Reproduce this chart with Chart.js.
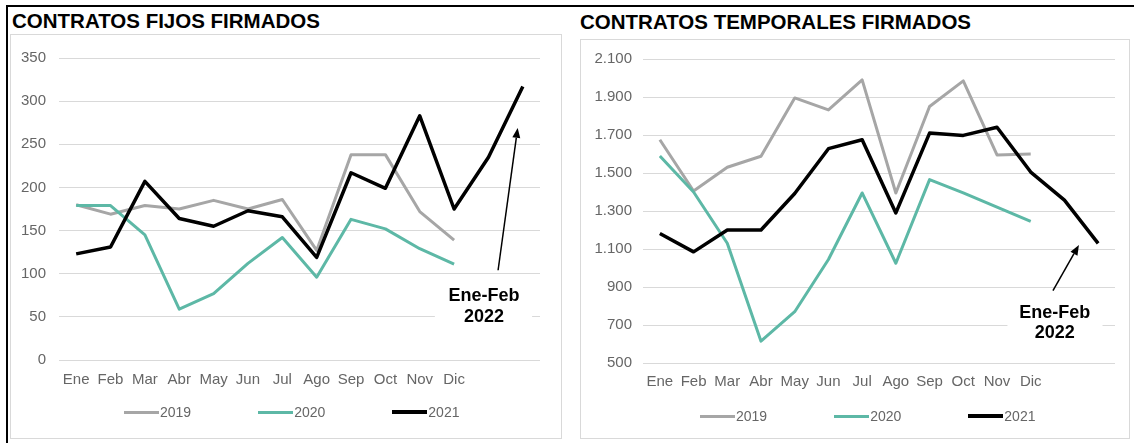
<!DOCTYPE html>
<html>
<head>
<meta charset="utf-8">
<script src="https://cdn.jsdelivr.net/npm/chart.js@4.4.1/dist/chart.umd.min.js"></script>
<style>
  html, body { margin: 0; padding: 0; background: #fff; }
  body { width: 1134px; height: 443px; position: relative; overflow: hidden; font-family: "Liberation Sans", Arial, sans-serif; }
  .abs { position: absolute; }
  .title { font-weight: bold; font-size: 20.5px; color: #000; white-space: nowrap; line-height: 24px; }
  .box { border: 1px solid #d9d9d9; box-sizing: border-box; }
  .legend { display: flex; align-items: center; font-size: 14px; color: #666; white-space: nowrap; }
  .legend .item { display: flex; align-items: center; margin-right: 67px; }
  .legend .swatch { width: 35px; margin-right: 1px; }
</style>
</head>
<body>
<div class="abs" style="left:6px;top:5px;width:1128px;height:2px;background:#000"></div>
<div class="abs" style="left:6px;top:5px;width:2px;height:438px;background:#000"></div>

<div class="abs box" style="left:10px;top:34px;width:552px;height:405px"></div>
<div class="abs box" style="left:580px;top:39px;width:550px;height:400px"></div>

<div class="abs title" id="t1" style="left:12px;top:9px"></div>
<div class="abs title" id="t2" style="left:580px;top:10px"></div>

<canvas id="c1" class="abs" width="546" height="400" style="left:14px;top:36px"></canvas>
<canvas id="c2" class="abs" width="549" height="399" style="left:580px;top:39px"></canvas>

<div class="abs legend" id="lg1" style="left:124px;top:402px;height:20px"></div>
<div class="abs legend" id="lg2" style="left:700px;top:406px;height:20px"></div>

<script>
// ---------- DATA ----------
const titleFijos = 'CONTRATOS FIJOS FIRMADOS';
const titleTemporales = 'CONTRATOS TEMPORALES FIRMADOS';
const months = ['Ene','Feb','Mar','Abr','May','Jun','Jul','Ago','Sep','Oct','Nov','Dic','',''];
const seriesNames = ['2019','2020','2021'];
const annotationText = ['Ene-Feb','2022'];

const fijos2019 = [180,169,179,175,185,175,186,127,238,238,172,139,null,null];
const fijos2020 = [179,179,145,59,77,112,142,96,163,152,129,111,null,null];
const fijos2021 = [123,131,207,164,155,173,166,119,217,199,283,175,235,317];

const temporales2019 = [1675,1405,1530,1588,1895,1832,1990,1395,1850,1985,1595,1600,null,null];
const temporales2020 = [1590,1400,1130,615,770,1045,1395,1025,1465,1395,1320,1245,null,null];
const temporales2021 = [1182,1085,1200,1200,1392,1628,1675,1290,1710,1698,1741,1505,1357,1130];

const fijosTicks = {min: 0, max: 350, step: 50};
const temporalesTicks = {min: 500, max: 2100, step: 200};

// ---------- STYLE ----------
const colors = ['#a6a6a6', '#5db8a6', '#000000'];
const widths = [3, 3, 3.5];
const orders = [2, 1, 0];
const FONT = '"Liberation Sans", Arial, sans-serif';

document.getElementById('t1').textContent = titleFijos;
document.getElementById('t2').textContent = titleTemporales;

function buildLegend(id) {
  const el = document.getElementById(id);
  seriesNames.forEach((n, i) => {
    const it = document.createElement('div');
    it.className = 'item';
    const sw = document.createElement('div');
    sw.className = 'swatch';
    sw.style.height = widths[i] + 'px';
    sw.style.background = colors[i];
    const tx = document.createElement('span');
    tx.textContent = n;
    it.appendChild(sw); it.appendChild(tx);
    el.appendChild(it);
  });
}
buildLegend('lg1');
buildLegend('lg2');

function fmtDots(v) {
  return String(v).replace(/\B(?=(\d{3})+(?!\d))/g, '.');
}

const annotationPlugin = {
  id: 'eneFeb',
  afterDatasetsDraw(chart) {
    const a = chart.options.plugins.eneFeb;
    if (!a) return;
    const xs = chart.scales.x, ys = chart.scales.y, ctx = chart.ctx;
    ctx.save();
    const bx1 = xs.getPixelForValue(a.box[0]), bx2 = xs.getPixelForValue(a.box[1]);
    const by1 = ys.getPixelForValue(a.box[2]), by2 = ys.getPixelForValue(a.box[3]);
    ctx.fillStyle = '#fff';
    ctx.fillRect(bx1, by1, bx2 - bx1, by2 - by1);
    ctx.fillStyle = '#000';
    ctx.font = 'bold 18px ' + FONT;
    ctx.textAlign = 'center';
    ctx.textBaseline = 'middle';
    const tx = xs.getPixelForValue(a.text[0]);
    ctx.fillText(annotationText[0], tx, ys.getPixelForValue(a.text[1]));
    ctx.fillText(annotationText[1], tx, ys.getPixelForValue(a.text[2]));
    const x1 = xs.getPixelForValue(a.tail[0]), y1 = ys.getPixelForValue(a.tail[1]);
    const x2 = xs.getPixelForValue(a.tip[0]), y2 = ys.getPixelForValue(a.tip[1]);
    const ang = Math.atan2(y2 - y1, x2 - x1);
    const hl = 10, hw = 4;
    const bxp = x2 - hl * Math.cos(ang), byp = y2 - hl * Math.sin(ang);
    ctx.strokeStyle = '#000';
    ctx.lineWidth = 1.5;
    ctx.beginPath();
    ctx.moveTo(x1, y1);
    ctx.lineTo(bxp, byp);
    ctx.stroke();
    ctx.beginPath();
    ctx.moveTo(x2, y2);
    ctx.lineTo(bxp + hw * Math.sin(ang), byp - hw * Math.cos(ang));
    ctx.lineTo(bxp - hw * Math.sin(ang), byp + hw * Math.cos(ang));
    ctx.closePath();
    ctx.fill();
    ctx.restore();
  }
};

function makeChart(id, data, ticks, cfg) {
  const datasets = data.map((d, i) => ({
    label: seriesNames[i],
    data: d,
    borderColor: colors[i],
    backgroundColor: colors[i],
    borderWidth: widths[i],
    pointRadius: 0,
    tension: 0,
    order: orders[i],
    borderJoinStyle: 'round',
    spanGaps: false
  }));
  return new Chart(document.getElementById(id), {
    type: 'line',
    data: { labels: months, datasets },
    plugins: [annotationPlugin],
    options: {
      responsive: false,
      devicePixelRatio: 1,
      animation: false,
      layout: { padding: cfg.padding },
      plugins: {
        legend: { display: false },
        tooltip: { enabled: false },
        eneFeb: cfg.annotation
      },
      scales: {
        x: {
          offset: true,
          grid: { display: false, drawTicks: false },
          border: { display: false },
          ticks: { color: '#666', font: { family: FONT, size: cfg.xFont }, padding: cfg.xPad, maxRotation: 0, autoSkip: false },
          afterFit: s => { s.height = cfg.xHeight; }
        },
        y: {
          min: ticks.min, max: ticks.max,
          grid: { color: '#d9d9d9', lineWidth: 1, drawTicks: false },
          border: { display: false },
          ticks: { stepSize: ticks.step, color: '#666', font: { family: FONT, size: cfg.yFont }, padding: cfg.yPad, callback: v => fmtDots(v) },
          afterFit: s => { s.width = cfg.yWidth; }
        }
      }
    }
  });
}

makeChart('c1', [fijos2019, fijos2020, fijos2021], fijosTicks, {
  padding: { left: 0, top: 18, right: 20, bottom: 36 },
  xHeight: 40, yWidth: 45, xPad: 11, yPad: 13, xFont: 15, yFont: 15,
  annotation: { tip: [12.85, 269], tail: [12.28, 104], text: [11.87, 74, 50], box: [10.44, 13.27, 89, 34] }
});

makeChart('c2', [temporales2019, temporales2020, temporales2021], temporalesTicks, {
  padding: { left: 0, top: 19, right: 14, bottom: 35 },
  xHeight: 40, yWidth: 63, xPad: 10, yPad: 11, xFont: 15, yFont: 15,
  annotation: { tip: [12.43, 1121], tail: [11.66, 881], text: [11.71, 765, 660], box: [10.31, 13.13, 832, 596] }
});
</script>
</body>
</html>
